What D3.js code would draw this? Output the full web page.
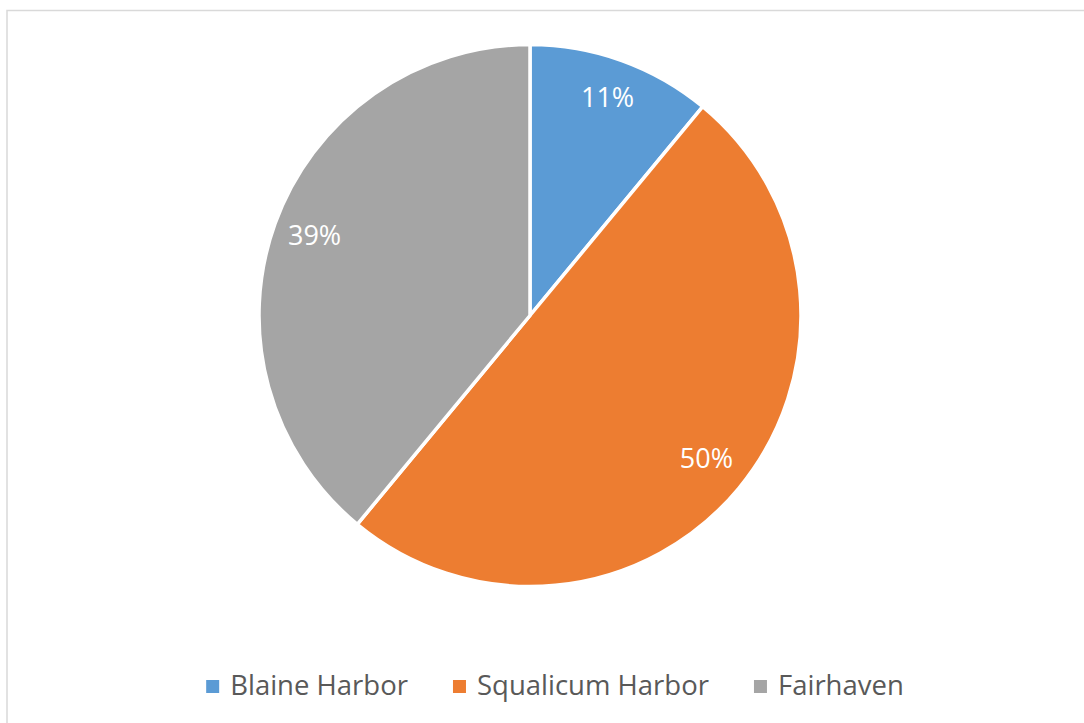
<!DOCTYPE html>
<html><head><meta charset="utf-8">
<script src="https://cdn.jsdelivr.net/npm/d3@7"></script>
<style>html,body{margin:0;padding:0;background:#fff;}svg{display:block;}</style>
</head><body>
<script>
const categories = ["Blaine Harbor", "Squalicum Harbor", "Fairhaven"];
const values = [11, 50, 39];
const labels = ["11%", "50%", "39%"];
const colors = ["#5B9BD5", "#ED7D31", "#A5A5A5"];

const W = 1084, H = 723;
const svg = d3.select("body").append("svg").attr("width", W).attr("height", H);
svg.append("rect").attr("x", 7).attr("y", 10.5).attr("width", 1200).attr("height", 800)
  .attr("fill", "#fff").attr("stroke", "#D9D9D9").attr("stroke-width", 1.5);

const cx = 530, cy = 315.5, R = 271;
const pie = d3.pie().sort(null).value(d => d)(values);
const arc = d3.arc().innerRadius(0).outerRadius(R);
const g = svg.append("g").attr("transform", `translate(${cx},${cy})`);
g.selectAll("path").data(pie).enter().append("path")
  .attr("d", arc).attr("fill", (d, i) => colors[i])
  .attr("stroke", "#fff").attr("stroke-width", 3.5).attr("stroke-linejoin", "round");

const lr = 229;
const larc = d3.arc().innerRadius(lr).outerRadius(lr);
g.selectAll("text").data(pie).enter().append("text")
  .attr("transform", d => `translate(${larc.centroid(d)})`)
  .attr("text-anchor", "middle").attr("dy", "0.25em")
  .attr("font-family", "'Open Sans', sans-serif").attr("font-size", 27)
  .attr("fill", "#fff").text((d, i) => labels[i]);

// legend
const lg = svg.append("g");
const items = lg.selectAll("g").data(categories).enter().append("g");
items.append("rect").attr("width", 13).attr("height", 13).attr("y", -15)
  .attr("fill", (d, i) => colors[i]);
const texts = items.append("text").attr("x", 24).attr("y", 0)
  .attr("font-family", "'Open Sans', sans-serif").attr("font-size", 27.5)
  .attr("fill", "#595959").text(d => d);
let x = 0; const xs = [];
texts.each(function(d, i){ xs.push(x); x += 24 + this.getComputedTextLength() + 45; });
const total = x - 45;
const startX = 555 - total / 2;
items.attr("transform", (d, i) => `translate(${startX + xs[i]},${695})`);
</script>
</body></html>
